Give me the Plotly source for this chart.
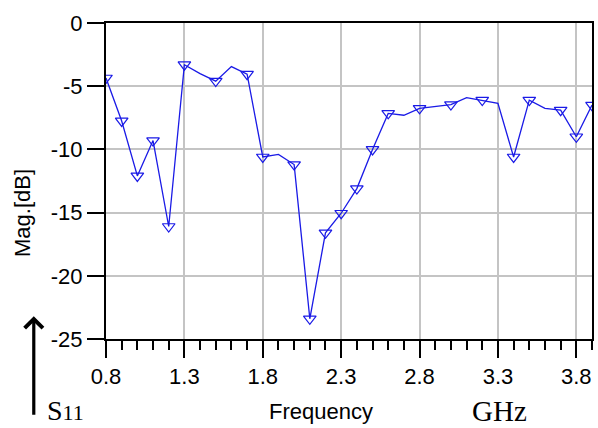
import plotly.graph_objects as go

# S11 magnitude sweep, 0.8-3.9 GHz in 0.1 GHz steps
freq_ghz = [0.8, 0.9, 1.0, 1.1, 1.2, 1.3, 1.4, 1.5, 1.6, 1.7, 1.8, 1.9, 2.0, 2.1, 2.2, 2.3,
            2.4, 2.5, 2.6, 2.7, 2.8, 2.9, 3.0, 3.1, 3.2, 3.3, 3.4, 3.5, 3.6, 3.7, 3.8, 3.9]
s11_db = [-4.35, -7.75, -12.1, -9.3, -16.1, -3.3, -4.0, -4.6, -3.45, -4.05, -10.6, -10.4,
          -11.2, -23.4, -16.6, -15.05, -13.1, -10.0, -7.15, -7.3, -6.75, -6.6, -6.45, -5.9,
          -6.1, -6.35, -10.6, -6.1, -6.75, -6.9, -9.0, -6.5]

# frequencies that carry a marker symbol
marker_freqs = [0.8, 0.9, 1.0, 1.1, 1.2, 1.3, 1.5, 1.7, 1.8, 2.0, 2.1, 2.2, 2.3, 2.4, 2.5,
                2.6, 2.8, 3.0, 3.2, 3.4, 3.5, 3.7, 3.8, 3.9]

x_tick_vals = [0.8, 1.3, 1.8, 2.3, 2.8, 3.3, 3.8]
x_tick_text = ["0.8", "1.3", "1.8", "2.3", "2.8", "3.3", "3.8"]
y_tick_vals = [0, -5, -10, -15, -20, -25]
y_tick_text = ["0", "-5", "-10", "-15", "-20", "-25"]

lookup = dict(zip(freq_ghz, s11_db))
marker_vals = [lookup[f] for f in marker_freqs]

BLUE = "#1a1ae6"
SANS = "Liberation Sans, Arial, sans-serif"
SERIF = "Liberation Serif, Times New Roman, serif"

fig = go.Figure()
fig.add_trace(go.Scatter(x=freq_ghz, y=s11_db, mode="lines",
                         line=dict(color=BLUE, width=1.3), hoverinfo="skip",
                         showlegend=False))
fig.add_trace(go.Scatter(x=marker_freqs, y=marker_vals, mode="markers",
                         marker=dict(symbol="triangle-down-open", size=11,
                                     color=BLUE, line=dict(width=1.2, color=BLUE)),
                         showlegend=False))

fig.update_layout(
    width=598, height=428,
    margin=dict(l=106, r=4, t=23, b=89),
    paper_bgcolor="white", plot_bgcolor="white",
    font=dict(family=SANS, size=22, color="black"),
    xaxis=dict(
        range=[0.8, 3.9], tickvals=x_tick_vals, ticktext=x_tick_text,
        ticks="outside", ticklen=17, tickwidth=2, tickcolor="black",
        showline=True, linecolor="black", linewidth=2, mirror=True,
        showgrid=True, gridcolor="#c4c4c4", gridwidth=2, zeroline=False,
        minor=dict(dtick=0.1, tick0=0.8, ticks="outside", ticklen=9,
                   tickwidth=1.5, tickcolor="black", showgrid=False),
        tickfont=dict(family=SANS, size=22),
    ),
    yaxis=dict(
        range=[-25, 0], tickvals=y_tick_vals, ticktext=y_tick_text,
        ticks="outside", ticklen=17, tickwidth=2, tickcolor="black",
        showline=True, linecolor="black", linewidth=2, mirror=True,
        showgrid=True, gridcolor="#c4c4c4", gridwidth=2, zeroline=False,
        tickfont=dict(family=SANS, size=22),
    ),
)

# y axis caption
fig.add_annotation(text="Mag.[dB]", xref="paper", yref="paper", x=-0.172, y=0.40,
                   xanchor="center", yanchor="middle", textangle=-90, showarrow=False,
                   font=dict(family=SANS, size=22))
# captions below the plot
fig.add_annotation(text="Frequency", xref="paper", yref="paper", x=0.4426, y=-0.23,
                   xanchor="center", yanchor="middle", showarrow=False,
                   font=dict(family=SANS, size=22))
fig.add_annotation(text="GHz", xref="paper", yref="paper", x=0.809, y=-0.228,
                   xanchor="center", yanchor="middle", showarrow=False,
                   font=dict(family=SERIF, size=29))
fig.add_annotation(text="S<span style='font-size:22px'>11</span>", xref="paper", yref="paper",
                   x=-0.125, y=-0.226, xanchor="left", yanchor="middle", showarrow=False,
                   font=dict(family=SERIF, size=28))
# upward arrow beside the S11 label
fig.add_annotation(text="", xref="paper", yref="paper", x=-0.1486, y=0.072,
                   ax=0, ay=100, showarrow=True, arrowhead=4, arrowsize=1.1,
                   arrowwidth=3.2, arrowcolor="black")

fig.write_html("out.html")
